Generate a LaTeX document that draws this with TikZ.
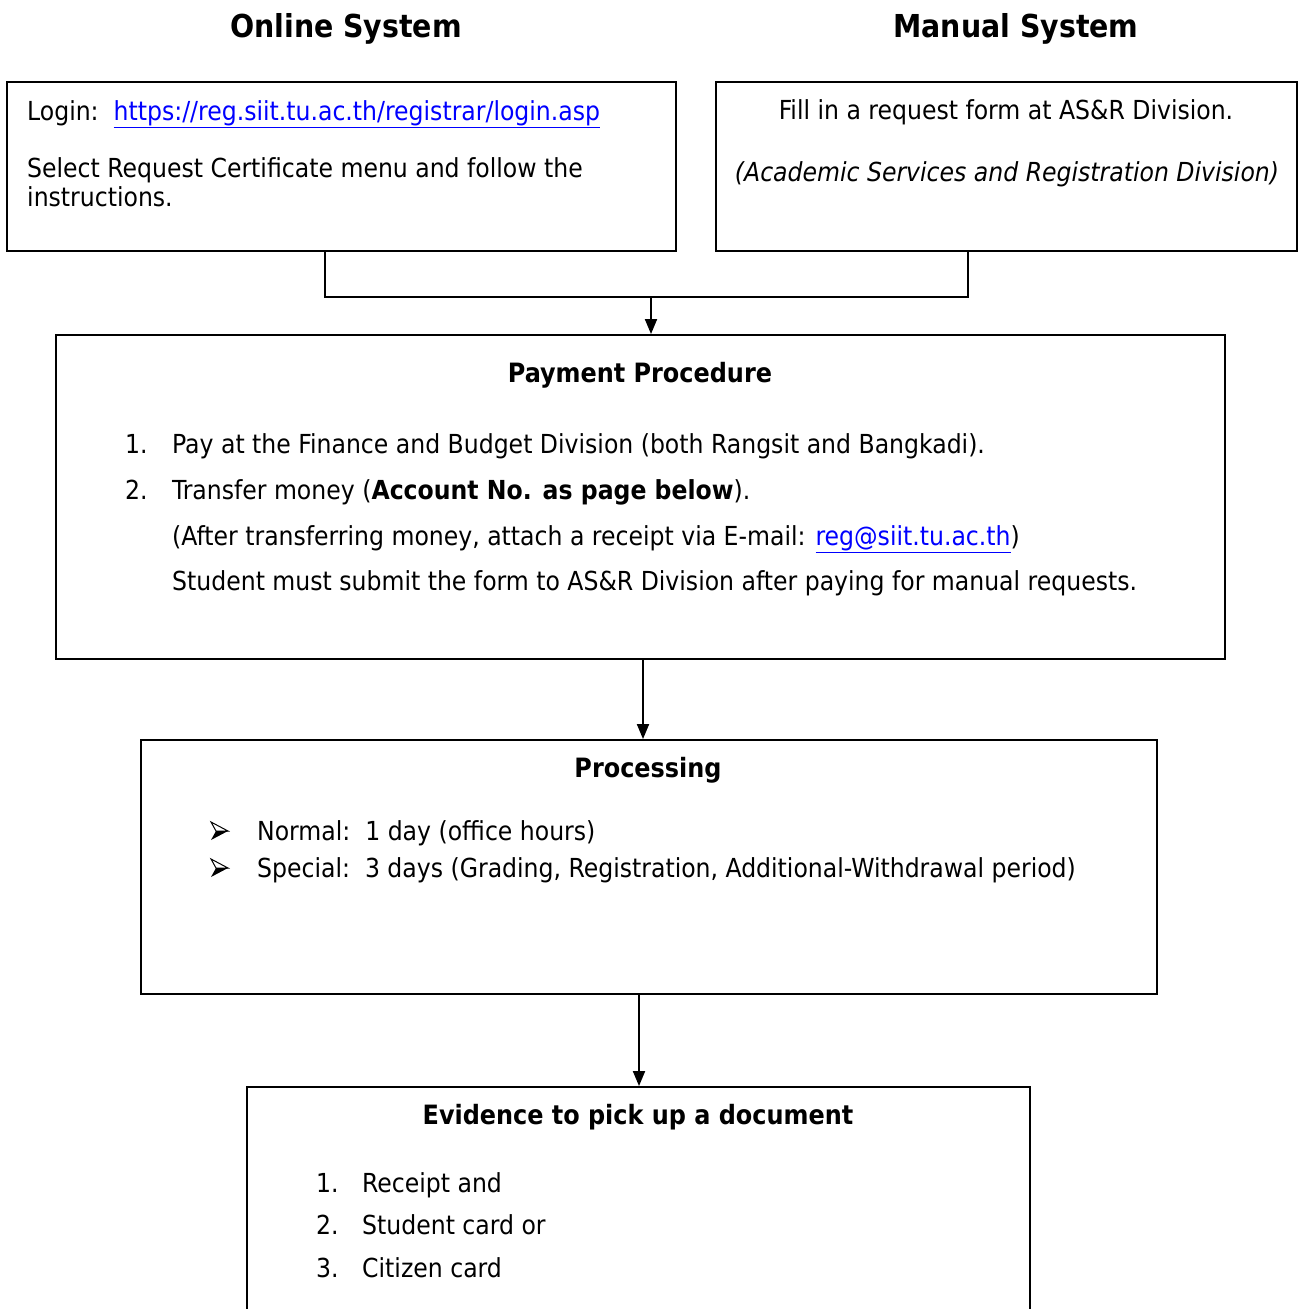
\documentclass[tikz,border=0pt]{standalone}
\usepackage{fontspec}
\setmainfont{DejaVu Sans Condensed}
\usetikzlibrary{arrows.meta}
\definecolor{linkblue}{RGB}{0,0,255}
\newcommand{\lnk}[1]{\textcolor{linkblue}{\underline{#1}}}
\begin{document}
\begin{tikzpicture}[x=1pt,y=-1pt,
  box/.style={draw,line width=1.9pt,inner sep=0pt,rectangle},
  txt/.style={anchor=base west,inner sep=0pt,font=\fontsize{26.2}{31}\selectfont},
  ctxt/.style={anchor=base,inner sep=0pt,font=\fontsize{26.2}{31}\selectfont},
  head/.style={anchor=base,inner sep=0pt,font=\fontsize{26.6}{31}\selectfont\bfseries},
  title/.style={anchor=base,inner sep=0pt,font=\fontsize{31.6}{36}\selectfont\bfseries},
  arrowbullet/.pic={
    \draw[line width=1pt,line join=miter] (9,0) -- (-8,-9) -- (-3,0) -- cycle;
    \fill (9,0) -- (-3,0) -- (-8,9) -- cycle;},
  conn/.style={line width=1.9pt},
  arr/.style={line width=1.9pt,-{Triangle[length=15pt,width=12pt]}}]
\useasboundingbox (0,0) rectangle (1299,1309);
% titles
\node[title] (t1) at (346,37) {Online System};
\node[title] (t2) at (1016,37) {Manual System};
% top boxes
\node[box,minimum width=669pt,minimum height=169pt] (online) at (341.5,166.5) {};
\node[box,minimum width=581pt,minimum height=169pt] (manual) at (1006.5,166.5) {};
\node[txt] (l1) at (27,120) {Login:\ \ \lnk{https://reg.siit.tu.ac.th/registrar/login.asp}};
\node[txt] (l2) at (27,177) {Select Request Certificate menu and follow the};
\node[txt] (l3) at (27,206) {instructions.};
\node[ctxt] (m1) at (1006,119) {Fill in a request form at AS\&R Division.};
\node[ctxt] (m2) at (1007,181) {\itshape (Academic Services and Registration Division)};
% payment
\node[box,minimum width=1169pt,minimum height=324pt] (pay) at (640.5,497) {};
\node[head] (ph) at (640,382) {Payment Procedure};
\node[txt] (p1n) at (125,453) {1.};
\node[txt] (p1) at (172,453) {Pay at the Finance and Budget Division (both Rangsit and Bangkadi).};
\node[txt] (p2n) at (125,499) {2.};
\node[txt] (p2) at (172,499) {Transfer money (\textbf{Account No. as page below}).};
\node[txt] (p3) at (172,545) {(After transferring money, attach a receipt via E-mail: \lnk{reg@siit.tu.ac.th})};
\node[txt] (p4) at (172,590) {Student must submit the form to AS\&R Division after paying for manual requests.};
% processing
\node[box,minimum width=1016pt,minimum height=254pt] (proc) at (649,867) {};
\node[head] (prh) at (648,777) {Processing};
\pic (b1) at (219,831) {arrowbullet};
\node[txt] (r1) at (257,840) {Normal:\ \ 1 day (office hours)};
\pic (b2) at (219,868) {arrowbullet};
\node[txt] (r2) at (257,877) {Special:\ \ 3 days (Grading, Registration, Additional-Withdrawal period)};
% evidence
\node[box,minimum width=783pt,minimum height=260pt] (evid) at (638.5,1217) {};
\node[head] (eh) at (638,1124) {Evidence to pick up a document};
\node[txt] (e1n) at (316,1192) {1.};
\node[txt] (e1) at (362,1192) {Receipt and};
\node[txt] (e2n) at (316,1234) {2.};
\node[txt] (e2) at (362,1234) {Student card or};
\node[txt] (e3n) at (316,1277) {3.};
\node[txt] (e3) at (362,1277) {Citizen card};
% connectors
\coordinate (ja) at (325,297);
\coordinate (jb) at (968,297);
\coordinate (jm) at (651,297);
\coordinate (a1) at (643,0);
\coordinate (a2) at (639,0);
\draw[conn] (online.south -| ja) -- (ja) -- (jb) -- (manual.south -| jb);
\draw[arr] (jm) -- (pay.north -| jm);
\draw[arr] (pay.south -| a1) -- (proc.north -| a1);
\draw[arr] (proc.south -| a2) -- (evid.north -| a2);
\end{tikzpicture}
\end{document}
